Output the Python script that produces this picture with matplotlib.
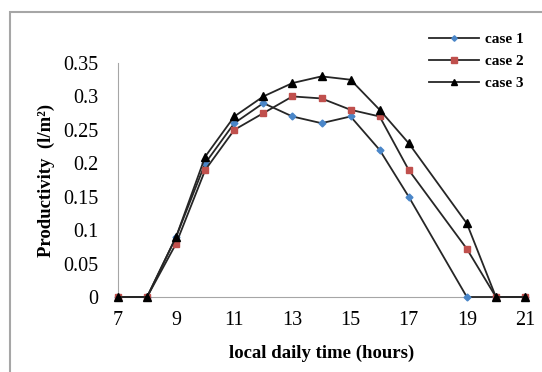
import matplotlib
matplotlib.use("Agg")
import matplotlib.pyplot as plt
from matplotlib.patches import Rectangle

# hours and productivity values (l/m2)
hours = [7, 8, 9, 10, 11, 12, 13, 14, 15, 16, 17, 19, 20, 21]
case1 = [0, 0, 0.09, 0.20, 0.26, 0.29, 0.27, 0.26, 0.27, 0.22, 0.15, 0, 0, 0]
case2 = [0, 0, 0.08, 0.19, 0.25, 0.275, 0.30, 0.297, 0.28, 0.27, 0.19, 0.072, 0, 0]
case3 = [0, 0, 0.09, 0.21, 0.27, 0.30, 0.32, 0.33, 0.325, 0.28, 0.23, 0.11, 0, 0]

xticks = [7, 9, 11, 13, 15, 17, 19, 21]
yticks = [0, 0.05, 0.1, 0.15, 0.2, 0.25, 0.3, 0.35]
ytick_labels = ["0", "0.05", "0.1", "0.15", "0.2", "0.25", "0.3", "0.35"]

plt.rcParams["font.family"] = ["Liberation Serif", "DejaVu Serif"]

fig = plt.figure(figsize=(5.42, 3.72), dpi=100)
ax = fig.add_axes([118 / 542, 1 - 297 / 372, 407 / 542, 234 / 372])

# outer chart border (runs off the right and bottom edges)
fig.patches.append(Rectangle((10 / 542, -0.1), 1.2, 1 - 12 / 372 + 0.1,
                             transform=fig.transFigure, fill=False,
                             edgecolor="#a6a6a6", linewidth=1.5))

ax.plot(hours, case1, color="#262626", lw=1.3, marker="D", ms=3.5,
        mfc="#4a86c8", mec="#4a86c8", label="case 1", clip_on=False, zorder=3)
ax.plot(hours, case2, color="#262626", lw=1.3, marker="s", ms=4.8,
        mfc="#c0504d", mec="#c0504d", label="case 2", clip_on=False, zorder=3)
ax.plot(hours, case3, color="#262626", lw=1.3, marker="^", ms=5.2,
        mfc="black", mec="black", label="case 3", clip_on=False, zorder=3)

ax.set_xlim(7, 21)
ax.set_ylim(0, 0.35)
ax.set_xticks(xticks)
ax.set_yticks(yticks)
ax.set_yticklabels(ytick_labels)
ax.tick_params(length=0, labelsize=14.5)
ax.tick_params(axis="x", pad=10)
ax.tick_params(axis="y", pad=14)

for s in ["top", "right"]:
    ax.spines[s].set_visible(False)
ax.spines["left"].set_color("#a6a6a6")
ax.spines["bottom"].set_color("#a6a6a6")

ax.set_xlabel("local daily time (hours)", fontsize=13.5, fontweight="bold", labelpad=11)
ax.set_ylabel("Productivity  (l/m²)", fontsize=13.5, fontweight="bold", labelpad=6)

leg = ax.legend(loc="upper left", bbox_to_anchor=(0.73, 1.19), frameon=False,
                handlelength=3.3, labelspacing=0.55, handletextpad=0.4,
                markerscale=0.8, prop={"weight": "bold", "size": 11})

fig.savefig("out.png", dpi=100)
